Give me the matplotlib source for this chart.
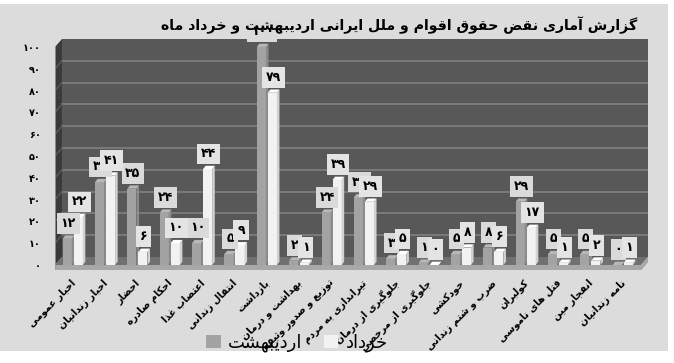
import matplotlib
matplotlib.use("Agg")
import matplotlib.pyplot as plt
from matplotlib.patches import Rectangle, Polygon

# دسته‌ها و آمار دو ماه
categories = [
    "اخبار عمومی", "اخبار زندانیان", "احضار", "احکام صادره", "اعتصاب غذا",
    "انتقال زندانی", "بازداشت", "بهداشت و درمان", "توزیع و صدور وثیقه",
    "تیراندازی به مردم", "جلوگیری از درمان", "جلوگیری از مرخصی", "خودکشی",
    "ضرب و شتم زندانی", "کولبران", "قتل های ناموسی", "انفجار مین", "نامه زندانیان",
]
ordibehesht = [12, 38, 35, 24, 10, 5, 100, 2, 24, 31, 3, 1, 5, 8, 29, 5, 5, 0]
khordad = [22, 41, 6, 10, 44, 9, 79, 1, 39, 29, 5, 0, 8, 6, 17, 1, 2, 1]
yticks = list(range(0, 101, 10))

title = "گزارش آماری نقض حقوق اقوام و ملل ایرانی اردیبهشت و خرداد ماه"
series_names = ["اردیبهشت", "خرداد"]

# شکل‌های حروف: جدا، پایانی، آغازی، میانی
FORMS = {
    "ا": ("\uFE8D", "\uFE8E", None, None),
    "آ": ("\uFE81", "\uFE82", None, None),
    "ب": ("\uFE8F", "\uFE90", "\uFE91", "\uFE92"),
    "پ": ("\uFB56", "\uFB57", "\uFB58", "\uFB59"),
    "ت": ("\uFE95", "\uFE96", "\uFE97", "\uFE98"),
    "ث": ("\uFE99", "\uFE9A", "\uFE9B", "\uFE9C"),
    "ج": ("\uFE9D", "\uFE9E", "\uFE9F", "\uFEA0"),
    "چ": ("\uFB7A", "\uFB7B", "\uFB7C", "\uFB7D"),
    "ح": ("\uFEA1", "\uFEA2", "\uFEA3", "\uFEA4"),
    "خ": ("\uFEA5", "\uFEA6", "\uFEA7", "\uFEA8"),
    "د": ("\uFEA9", "\uFEAA", None, None),
    "ذ": ("\uFEAB", "\uFEAC", None, None),
    "ر": ("\uFEAD", "\uFEAE", None, None),
    "ز": ("\uFEAF", "\uFEB0", None, None),
    "ژ": ("\uFB8A", "\uFB8B", None, None),
    "س": ("\uFEB1", "\uFEB2", "\uFEB3", "\uFEB4"),
    "ش": ("\uFEB5", "\uFEB6", "\uFEB7", "\uFEB8"),
    "ص": ("\uFEB9", "\uFEBA", "\uFEBB", "\uFEBC"),
    "ض": ("\uFEBD", "\uFEBE", "\uFEBF", "\uFEC0"),
    "ط": ("\uFEC1", "\uFEC2", "\uFEC3", "\uFEC4"),
    "ظ": ("\uFEC5", "\uFEC6", "\uFEC7", "\uFEC8"),
    "ع": ("\uFEC9", "\uFECA", "\uFECB", "\uFECC"),
    "غ": ("\uFECD", "\uFECE", "\uFECF", "\uFED0"),
    "ف": ("\uFED1", "\uFED2", "\uFED3", "\uFED4"),
    "ق": ("\uFED5", "\uFED6", "\uFED7", "\uFED8"),
    "ک": ("\uFB8E", "\uFB8F", "\uFB90", "\uFB91"),
    "ك": ("\uFED9", "\uFEDA", "\uFEDB", "\uFEDC"),
    "گ": ("\uFB92", "\uFB93", "\uFB94", "\uFB95"),
    "ل": ("\uFEDD", "\uFEDE", "\uFEDF", "\uFEE0"),
    "م": ("\uFEE1", "\uFEE2", "\uFEE3", "\uFEE4"),
    "ن": ("\uFEE5", "\uFEE6", "\uFEE7", "\uFEE8"),
    "و": ("\uFEED", "\uFEEE", None, None),
    "ه": ("\uFEE9", "\uFEEA", "\uFEEB", "\uFEEC"),
    "ی": ("\uFBFC", "\uFBFD", "\uFBFE", "\uFBFF"),
    "ي": ("\uFEF1", "\uFEF2", "\uFEF3", "\uFEF4"),
    "ئ": ("\uFE89", "\uFE8A", "\uFE8B", "\uFE8C"),
}


def fa(text):
    # شکل‌دهی ساده و برگرداندن ترتیب برای نمایش راست‌به‌چپ
    out = []
    for i, ch in enumerate(text):
        if ch not in FORMS:
            out.append(ch)
            continue
        prev = text[i - 1] if i > 0 else ""
        nxt = text[i + 1] if i + 1 < len(text) else ""
        before = prev in FORMS and FORMS[prev][2] is not None
        after = nxt in FORMS and FORMS[ch][2] is not None
        iso, fin, ini, med = FORMS[ch]
        if before and after:
            out.append(med)
        elif before:
            out.append(fin)
        elif after:
            out.append(ini)
        else:
            out.append(iso)
    return "".join(out)[::-1]


def fa_num(v):
    return str(v).translate(str.maketrans("0123456789", "۰۱۲۳۴۵۶۷۸۹"))


plt.rcParams["font.family"] = ["DejaVu Sans"]

fig = plt.figure(figsize=(6.74, 3.63), dpi=100, facecolor="white")
fig.patches.append(Rectangle((0, 12 / 363), 668 / 674, 347 / 363,
                             transform=fig.transFigure, fc="#dcdcdc", ec="none", zorder=-1))

ax = fig.add_axes([55 / 674, 0.255, 593 / 674, 0.6877])
ax.set_xlim(-0.587, 17.74)
ax.set_ylim(-2.5, 112)
ax.set_facecolor("none")
for s in ax.spines.values():
    s.set_visible(False)

DX, DY = 0.216, 3.67
x0, x1 = -0.587, 17.74

# دیوار پشتی، دیوار چپ و کف
ax.add_patch(Polygon([(x0 + DX, DY), (x1, DY), (x1, 100 + DY), (x0 + DX, 100 + DY)],
                     fc="#585858", ec="none", zorder=1))
ax.add_patch(Polygon([(x0, 0), (x0 + DX, DY), (x0 + DX, 100 + DY), (x0, 100)],
                     fc="#3a3a3a", ec="none", zorder=1))
ax.add_patch(Polygon([(x0, 0), (x0 + DX, DY), (x1, DY), (x1 - DX, 0)],
                     fc="#707070", ec="none", zorder=1))
ax.add_patch(Polygon([(x0, -2.5), (x0, 0), (x1 - DX, 0), (x1, DY), (x1, DY - 2.5), (x1 - DX, -2.5)],
                     fc="#a8a8a8", ec="none", zorder=1))
ax.plot([x0, x0], [-2.5, 100], color="#8a96d8", lw=1.2, zorder=2)
for v in yticks[1:-1]:
    ax.plot([x0 + DX, x1], [v + DY, v + DY], color="#7a7a7a", lw=1.4, zorder=1.5)
    ax.plot([x0, x0 + DX], [v, v + DY], color="#5a5a5a", lw=1.0, zorder=1.5)

# ستون‌های سه‌بعدی
BW, BDX, BDY = 0.28, 0.08, 1.5
styles = [("#a3a3a3", "#8c8c8c", "#b8b8b8", "#dadada"),
          ("#f2f2f2", "#d2d2d2", "#ffffff", "#e4e4e4")]
label_z = [6, 7]
for i in range(len(categories)):
    for k, vals in enumerate([ordibehesht, khordad]):
        v = vals[i]
        front, side, top, box = styles[k]
        left = i - 0.35 + k * 0.34
        z = 3 + i * 0.01 + k * 0.005
        ax.add_patch(Rectangle((left, 0), BW, v, fc=front, ec="none", zorder=z))
        ax.add_patch(Polygon([(left + BW, 0), (left + BW + BDX, BDY),
                              (left + BW + BDX, v + BDY), (left + BW, v)],
                             fc=side, ec="none", zorder=z))
        ax.add_patch(Polygon([(left, v), (left + BDX, v + BDY),
                              (left + BW + BDX, v + BDY), (left + BW, v)],
                             fc=top, ec="none", zorder=z))
        ax.text(left + BW / 2 + 0.03, v + 7, fa_num(v), ha="center", va="center",
                fontsize=9, fontweight="bold", color="black", zorder=label_z[k],
                clip_on=False,
                bbox=dict(boxstyle="square,pad=0.3", fc=box, ec="none"))

ax.set_yticks(yticks)
ax.set_yticklabels([fa_num(v) for v in yticks], fontsize=7, fontweight="bold")
ax.tick_params(axis="y", length=0, pad=10)
ax.set_xticks(range(len(categories)))
ax.set_xticklabels([fa(c) for c in categories], rotation=45, ha="right", va="center",
                   rotation_mode="anchor", fontsize=7, fontweight="bold")
ax.tick_params(axis="x", length=0, pad=8)

fig.text(399 / 674, 1 - 25 / 363, fa(title), ha="center", va="center",
         fontsize=10.2, fontweight="bold", zorder=10)

handles = [Rectangle((0, 0), 1, 1, fc=styles[0][0], ec="none"),
           Rectangle((0, 0), 1, 1, fc=styles[1][0], ec="none")]
fig.legend(handles, [fa(n) for n in series_names], loc="center",
           bbox_to_anchor=(297 / 674, 1 - 343 / 363), ncol=2, frameon=False,
           fontsize=13, handlelength=0.8, handleheight=0.8, handletextpad=0.4,
           columnspacing=1.2)

fig.savefig("out.png", dpi=100, facecolor=fig.get_facecolor())
